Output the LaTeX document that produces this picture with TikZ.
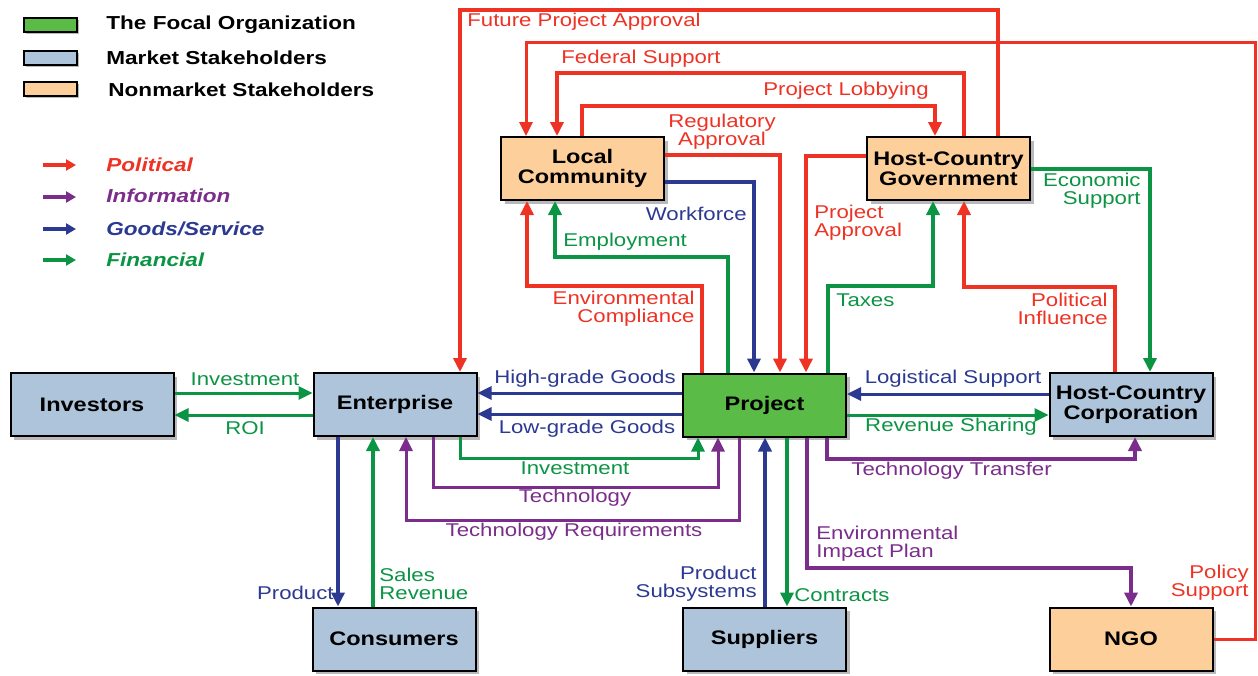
\documentclass[tikz,border=0pt]{standalone}
\usepackage{fontspec}
\setmainfont{Liberation Sans}[FakeStretch=1.2]
\usetikzlibrary{arrows.meta,shadows}
\definecolor{polred}{RGB}{238,50,36}
\definecolor{infopurple}{RGB}{123,45,139}
\definecolor{goodsblue}{RGB}{43,57,144}
\definecolor{fingreen}{RGB}{11,148,68}
\definecolor{focalgreen}{RGB}{91,187,71}
\definecolor{marketblue}{RGB}{173,196,218}
\definecolor{nonmarketorange}{RGB}{253,207,155}
\newcommand{\lblfont}{\fontsize{9.25}{9}\selectfont}
\newcommand{\actorfont}{\fontsize{9.8}{10}\selectfont\bfseries}
\newcommand{\legendfont}{\fontsize{9.4}{10}\selectfont\bfseries}

\begin{document}
\begin{tikzpicture}[x=0.5pt,y=-0.5pt,
  actor/.style={draw, line width=1pt, drop shadow={shadow xshift=1.8pt,shadow yshift=-1.8pt,opacity=.55}, minimum width=81.5pt, minimum height=31.5pt, align=center, font=\actorfont, inner sep=1pt},
  focal/.style={actor, fill=focalgreen},
  market/.style={actor, fill=marketblue},
  nonmarket/.style={actor, fill=nonmarketorange},
  swatch/.style={draw, line width=1pt, drop shadow={shadow xshift=1.2pt,shadow yshift=-1.2pt,opacity=.55}, minimum width=26.5pt, minimum height=7pt, inner sep=0pt},
  flow/.style={line width=1.9pt, -{Triangle[length=7pt,width=6.5pt]}},
  keyflow/.style={line width=2pt, -{Triangle[length=5pt,width=5.5pt]}},
  pol/.style={flow, draw=polred},
  info/.style={flow, draw=infopurple},
  goods/.style={flow, draw=goodsblue},
  fin/.style={flow, draw=fingreen},
  lbl/.style={inner sep=0pt, font=\lblfont, align=center},
  pollbl/.style={lbl, text=polred},
  infolbl/.style={lbl, text=infopurple},
  goodslbl/.style={lbl, text=goodsblue},
  finlbl/.style={lbl, text=fingreen},
  keylbl/.style={inner sep=0pt, anchor=west, font=\legendfont}
  ]
  \useasboundingbox (0,0) rectangle (1258,675);

  \node[swatch, fill=focalgreen] (kfocal) at (50.5,25) {};
  \node[swatch, fill=marketblue] (kmarket) at (50.5,57.5) {};
  \node[swatch, fill=nonmarketorange] (knonmarket) at (50.5,89) {};
  \node[keylbl] (tfocal) at (106,25) {The Focal Organization};
  \node[keylbl] (tmarket) at (106,58) {Market Stakeholders};
  \node[keylbl] (tnonmarket) at (108,90) {Nonmarket Stakeholders};

  \coordinate (kpol) at (43,165);
  \coordinate (kinfo) at (43,197);
  \coordinate (kgoods) at (43,229);
  \coordinate (kfin) at (43,260);
  \draw[keyflow, draw=polred] (kpol) -- ++(33,0);
  \draw[keyflow, draw=infopurple] (kinfo) -- ++(33,0);
  \draw[keyflow, draw=goodsblue] (kgoods) -- ++(33,0);
  \draw[keyflow, draw=fingreen] (kfin) -- ++(33,0);
  \node[keylbl, text=polred] (tpol) at (106,165) {\itshape Political};
  \node[keylbl, text=infopurple] (tinfo) at (106,196) {\itshape Information};
  \node[keylbl, text=goodsblue] (tgoods) at (106,229) {\itshape Goods/Service};
  \node[keylbl, text=fingreen] (tfin) at (106,260) {\itshape Financial};

  \node[nonmarket] (lc) at (582.5,168.5) {Local\\Community};
  \node[nonmarket] (hcg) at (948.5,168.5) {Host-Country\\Government};
  \node[market] (inv) at (92,404.5) {Investors};
  \node[market] (ent) at (395,404.5) {Enterprise};
  \node[focal] (prj) at (764.5,405) {Project};
  \node[market] (hcc) at (1131,404.5) {Host-Country\\Corporation};
  \node[market] (con) at (394,639) {Consumers};
  \node[market] (sup) at (764.5,639) {Suppliers};
  \node[nonmarket] (ngo) at (1131,639) {NGO};

  \draw[pol] (hcg.north -| 998,0) -- (998,10) -| (ent.north -| 460,0);
  \node[pollbl, anchor=west] (lfpa) at (467,22) {Future Project Approval};
  \draw[pol, line width=1.5pt] (ngo.east) -| (1255,42) -| (lc.north -| 526,0);
  \node[pollbl, align=right, anchor=east] (lps) at (1249,583) {Policy\\Support};
  \draw[pol] (hcg.north -| 964,0) -- (964,73) -| (lc.north -| 557,0);
  \node[pollbl] (lfs) at (641,59) {Federal Support};
  \draw[pol] (lc.north -| 582,0) -- (582,106) -| (hcg.north -| 935,0);
  \node[pollbl] (lpl) at (846,91) {Project Lobbying};
  \draw[pol] (lc.east |- 0,155) -| (prj.north -| 780,0);
  \node[pollbl] (lra) at (722,132) {Regulatory\\Approval};
  \draw[goods] (lc.east |- 0,182) -| (prj.north -| 754,0);
  \node[goodslbl, anchor=east] (lwf) at (747,214) {Workforce};
  \draw[pol] (hcg.west |- 0,156) -| (prj.north -| 806,0);
  \node[pollbl, align=left, anchor=west] (lpa) at (814,223) {Project\\Approval};
  \draw[fin] (prj.north -| 728,0) -- (728,257) -| (lc.south -| 555,0);
  \node[finlbl, anchor=west] (lemp) at (563,242) {Employment};
  \draw[pol] (prj.north -| 702,0) -- (702,286) -| (lc.south -| 527,0);
  \node[pollbl, align=right, anchor=east] (lec) at (695,309) {Environmental\\Compliance};
  \draw[fin] (prj.north -| 828,0) -- (828,286) -| (hcg.south -| 933,0);
  \node[finlbl, anchor=west] (ltax) at (836,300) {Taxes};
  \draw[pol] (hcc.north -| 1115,0) -- (1115,287) -| (hcg.south -| 964,0);
  \node[pollbl, align=right, anchor=east] (lpi) at (1108,309) {Political\\Influence};
  \draw[fin] (hcg.east |- 0,169) -| (hcc.north -| 1150,0);
  \node[finlbl, align=right, anchor=east] (les) at (1141,191) {Economic\\Support};

  \draw[fin, line width=1.5pt] (inv.east |- 0,393) -- (ent.west |- 0,393);
  \node[finlbl] (linv) at (245,379) {Investment};
  \draw[fin, line width=1.5pt] (ent.west |- 0,415) -- (inv.east |- 0,415);
  \node[finlbl] (lroi) at (245,428) {ROI};
  \draw[goods, line width=1.5pt] (prj.west |- 0,393) -- (ent.east |- 0,393);
  \node[goodslbl] (lhg) at (585,379) {High-grade Goods};
  \draw[goods, line width=1.5pt] (prj.west |- 0,414) -- (ent.east |- 0,414);
  \node[goodslbl] (llg) at (587,429) {Low-grade Goods};
  \draw[goods, line width=1.5pt] (hcc.west |- 0,394) -- (prj.east |- 0,394);
  \node[goodslbl] (lls) at (953,379) {Logistical Support};
  \draw[fin, line width=1.5pt] (prj.east |- 0,415) -- (hcc.west |- 0,415);
  \node[finlbl] (lrs) at (951,427) {Revenue Sharing};

  \draw[fin, line width=1.5pt] (ent.south -| 460,0) -- (460,458) -| (prj.south -| 698,0);
  \node[finlbl] (linv2) at (575,468) {Investment};
  \draw[info, line width=1.5pt] (ent.south -| 433,0) -- (433,487) -| (prj.south -| 718,0);
  \node[infolbl] (ltech) at (575,498) {Technology};
  \draw[info, line width=1.5pt] (prj.south -| 739,0) -- (739,520) -| (ent.south -| 406,0);
  \node[infolbl] (ltr) at (574,532) {Technology Requirements};
  \draw[goods] (ent.south -| 338,0) -- (con.north -| 338,0);
  \node[goodslbl, anchor=east] (lprod) at (334,593) {Product};
  \draw[fin] (con.north -| 373,0) -- (ent.south -| 373,0);
  \node[finlbl, align=left, anchor=west] (lsr) at (379,584) {Sales\\Revenue};
  \draw[goods] (sup.north -| 765,0) -- (prj.south -| 765,0);
  \node[goodslbl, align=right, anchor=east] (lpss) at (757,584) {Product\\Subsystems};
  \draw[fin] (prj.south -| 787,0) -- (sup.north -| 787,0);
  \node[finlbl, anchor=west] (lcon) at (794,595) {Contracts};
  \draw[info] (prj.south -| 827,0) -- (827,459) -| (hcc.south -| 1135,0);
  \node[infolbl, anchor=west] (ltt) at (851,471) {Technology Transfer};
  \draw[info] (prj.south -| 807,0) -- (807,568) -| (ngo.north -| 1131,0);
  \node[infolbl, align=left, anchor=west] (leip) at (816,544) {Environmental\\Impact Plan};
\end{tikzpicture}
\end{document}
